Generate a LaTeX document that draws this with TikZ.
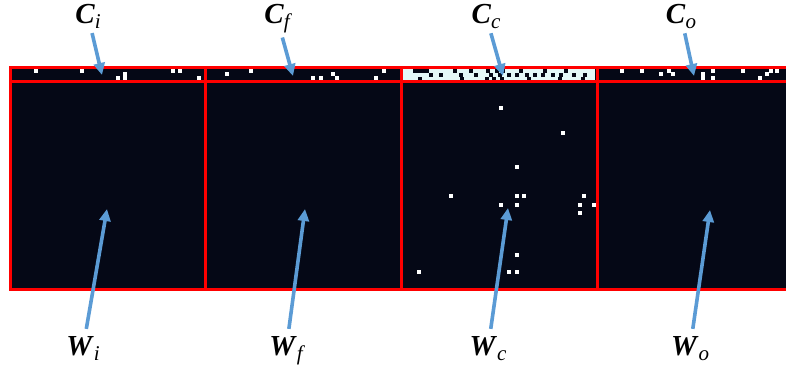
\documentclass[tikz,border=0pt]{standalone}
\usepackage{amsmath,amssymb}
\usepackage{fontspec}
\setmainfont{Liberation Serif}
\usepackage{tikz}
\usetikzlibrary{arrows.meta}
\definecolor{cellbg}{HTML}{050816}
\definecolor{gridred}{HTML}{FF0000}
\definecolor{arrowblue}{HTML}{5B9BD5}
\definecolor{hotcell}{HTML}{E4F8F8}
\newcommand{\gatesym}[2]{\textbf{\textit{#1}}\raisebox{-5pt}{\fontsize{21}{24}\selectfont\itshape #2}}
\tikzset{
  gatelabel/.style={font=\fontsize{29}{34}\selectfont,inner sep=1pt,anchor=base},
  pointer/.style={-{Triangle[length=12pt,width=11pt]},line width=3.6pt,draw=arrowblue},
  gridline/.style={draw=gridred,line width=3pt},
  onbit/.style={fill=white},
  offbit/.style={fill=cellbg}
}
\begin{document}
\begin{tikzpicture}[x=1pt,y=-1pt]
\useasboundingbox (0,0) rectangle (786,373);
\clip (0,0) rectangle (786,373);
% weight matrix background
\fill[cellbg] (10,67) rectangle (795,289);
\fill[hotcell] (403,69) rectangle (595,80);
% dark cells inside the bright C_c band
\foreach \x/\y in {415/70.5,419/70.5,423/70.5,427/70.5,455/70.5,471/70.5,488/70.5,497/70.5,503/70.5,
  521/70.5,545/70.5,566/70.5,431/74.5,441/74.5,461/74.5,476/74.5,491/74.5,500/74.5,509/74.5,517/74.5,
  527/74.5,535/74.5,543/74.5,553/74.5,561/74.5,574/74.5,585/74.5,420/78.5,462/78.5,487/78.5,
  494/78.5,502/78.5,529/78.5,560/78.5,583/78.5}
  \fill[offbit] (\x-2,\y-2) rectangle ++(4,4);
% active entries in the C strip
\foreach \x/\y in {36/71,82/71,118/78,125/74,125/78,173/71,180/71,199/78,
  227/74,251/71,313/78,321/78,333/74,337/78,376/78,384/71,
  622/71,642/71,661/74,669/71,673/74,703/74,703/78,713/71,713/78,743/71,
  760/78,767/74,771/71,777/71}
  \fill[onbit] (\x-1.8,\y-1.8) rectangle ++(3.6,3.6);
% active entries in W_c
\foreach \x/\y in {501/108,563/133,517/167,451/196,517/196,524/196,584/196,501/205,517/205,
  580/205,594/205,580/213,517/255,419/272,509/272,517/272}
  \fill[onbit] (\x-1.8,\y-1.8) rectangle ++(3.6,3.6);
% red grid
\draw[gridline] (795,67) -- (10,67) -- (10,289) -- (795,289);
\draw[gridline] (10,81.5) -- (795,81.5);
\foreach \x in {205,401.5,597.5}
  \draw[gridline] (\x,67) -- (\x,289);
% labels
\node[gatelabel] (ci) at (88,23) {\gatesym{C}{i}};
\node[gatelabel] (cf) at (277,23) {\gatesym{C}{f}};
\node[gatelabel] (cc) at (486,23) {\gatesym{C}{c}};
\node[gatelabel] (co) at (681,23) {\gatesym{C}{o}};
\node[gatelabel] (wi) at (83,355) {\gatesym{W}{i}};
\node[gatelabel] (wf) at (286,355) {\gatesym{W}{f}};
\node[gatelabel] (wc) at (488,355) {\gatesym{W}{c}};
\node[gatelabel] (wo) at (690,355) {\gatesym{W}{o}};
\coordinate (ci-tip) at (102,75);
\coordinate (cf-tip) at (293,76);
\coordinate (cc-tip) at (503,76);
\coordinate (co-tip) at (694,76);
\coordinate (wi-tip) at (107,209);
\coordinate (wf-tip) at (305,209);
\coordinate (wc-tip) at (508,208);
\coordinate (wo-tip) at (710,210);
% pointers
\foreach \n in {ci,cf,cc,co}
  \draw[pointer,shorten <=4pt] (\n) -- (\n-tip);
\foreach \n in {wi,wf,wc,wo}
  \draw[pointer,shorten <=6pt] (\n) -- (\n-tip);
\end{tikzpicture}
\end{document}
